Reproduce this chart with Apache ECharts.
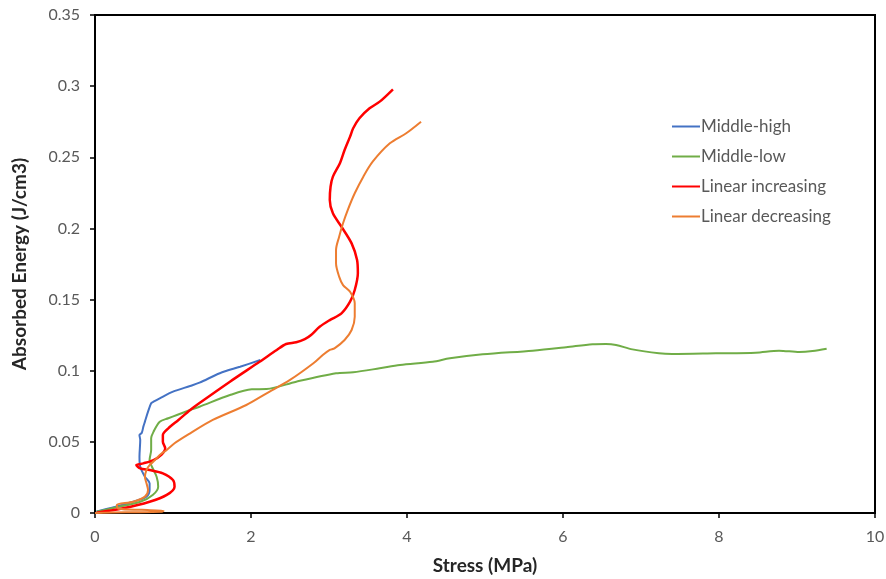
<!DOCTYPE html>
<html><head><meta charset="utf-8">
<script src="https://cdn.jsdelivr.net/npm/echarts@6/dist/echarts.min.js"></script>
<style>html,body{margin:0;padding:0;background:#fff}#c{width:886px;height:579px}</style>
</head><body><div id="c"></div>
<script>
var seriesNames = ["Middle-high", "Middle-low", "Linear increasing", "Linear decreasing"];
var xTicks = [0, 2, 4, 6, 8, 10];
var yTicks = [0, 0.05, 0.1, 0.15, 0.2, 0.25, 0.3, 0.35];

var middleHigh = [
[0.02,0.001],[0.19,0.0033],[0.49,0.0079],[0.66,0.0115],[0.70,0.0162],[0.70,0.0209],[0.64,0.0255],
[0.58,0.0325],[0.57,0.0396],[0.58,0.0513],[0.57,0.0548],[0.60,0.0564],[0.62,0.0607],[0.64,0.0642],
[0.68,0.0712],[0.72,0.0771],[0.75,0.0782],[0.83,0.0806],[1.00,0.0853],[1.22,0.0893],[1.34,0.0916],
[1.60,0.0982],[1.86,0.1028],[2.12,0.1075]
];
var middleLow = [
[0.02,0.0009],[0.23,0.0035],[0.58,0.0079],[0.74,0.0127],[0.81,0.0185],[0.79,0.0255],[0.73,0.0325],
[0.70,0.0372],[0.72,0.0443],[0.72,0.0525],[0.75,0.0571],[0.83,0.0642],[0.94,0.0666],[1.05,0.0689],
[1.22,0.0724],[1.34,0.0747],[1.73,0.0829],[2.01,0.0869],[2.20,0.0871],[2.58,0.0923],[3.09,0.0982],
[3.31,0.0989],[3.65,0.1017],[3.91,0.1040],[4.33,0.1063],[4.55,0.1087],[4.97,0.1115],[5.61,0.1141],
[6.04,0.1165],[6.38,0.1186],[6.55,0.1188],[6.68,0.1181],[6.89,0.1150],[7.23,0.1122],[7.40,0.1117],
[7.96,0.1122],[8.47,0.1127],[8.77,0.1141],[9.03,0.1131],[9.20,0.1138],[9.38,0.1155]
];
var linearIncreasing = [
[0.02,0.0002],[0.36,0.0033],[0.70,0.0079],[0.92,0.0127],[1.02,0.0185],[1.00,0.0232],[0.87,0.0279],
[0.70,0.0302],[0.58,0.0314],[0.53,0.0337],[0.62,0.0349],[0.75,0.0372],[0.85,0.0408],[0.90,0.0455],
[0.87,0.0501],[0.87,0.0548],[0.94,0.0595],[1.07,0.0654],[1.22,0.0724],[1.34,0.0773],[1.73,0.0923],
[2.11,0.1063],[2.33,0.1146],[2.45,0.1188],[2.58,0.1200],[2.69,0.1222],[2.77,0.1251],[2.88,0.1309],
[3.01,0.1356],[3.16,0.1403],[3.27,0.1485],[3.33,0.1567],[3.37,0.1685],[3.36,0.1778],[3.29,0.1895],
[3.16,0.2012],[3.05,0.2106],[3.01,0.2200],[3.02,0.2293],[3.05,0.2364],[3.14,0.2458],[3.20,0.2551],
[3.27,0.2645],[3.31,0.2704],[3.39,0.2774],[3.52,0.2844],[3.65,0.2891],[3.82,0.2978]
];
var linearDecreasing = [
[0.0,0.0],[0.4,0.0005],[0.85,0.0008],[0.88,0.0015],[0.6,0.0022],[0.3,0.0030],[0.28,0.0056],
[0.49,0.0079],[0.64,0.0115],[0.68,0.0162],[0.66,0.0209],[0.64,0.0255],[0.66,0.0302],[0.70,0.0337],
[0.77,0.0372],[0.83,0.0408],[0.92,0.0443],[1.02,0.0490],[1.22,0.0560],[1.51,0.0654],[1.94,0.0759],
[2.20,0.0841],[2.50,0.0935],[2.80,0.1052],[2.92,0.1110],[3.01,0.1146],[3.07,0.1157],[3.20,0.1216],
[3.29,0.1286],[3.33,0.1380],[3.33,0.1474],[3.27,0.1555],[3.18,0.1602],[3.13,0.1661],[3.09,0.1755],
[3.09,0.1848],[3.13,0.1942],[3.18,0.2036],[3.24,0.2129],[3.33,0.2247],[3.44,0.2364],[3.56,0.2469],
[3.78,0.2598],[3.99,0.2669],[4.18,0.2750]
];

var colors = ["#4472C4", "#70AD47", "#FF0000", "#ED7D31"];
var widths = [2, 2, 2.5, 2];
var datas = [middleHigh, middleLow, linearIncreasing, linearDecreasing];
var font = "Lato, 'Open Sans', sans-serif";

var chart = echarts.init(document.getElementById('c'), null, {renderer: 'canvas'});
chart.setOption({
  animation: false,
  backgroundColor: '#fff',
  grid: {left: 95, right: 11, top: 15, bottom: 66, containLabel: false, outerBoundsMode: 'none',
    show: true, borderColor: '#000', borderWidth: 2, backgroundColor: 'transparent'},
  legend: {
    orient: 'vertical', left: 667, top: 113,
    data: seriesNames,
    icon: 'rect', itemWidth: 28, itemHeight: 2, itemGap: 13,
    textStyle: {color: '#595959', fontSize: 17, fontFamily: font, padding: [0,0,0,-4]}
  },
  xAxis: {
    type: 'value', min: xTicks[0], max: xTicks[xTicks.length-1], interval: 2,
    name: 'Stress (MPa)', nameLocation: 'middle', nameGap: 43,
    nameTextStyle: {color: '#262626', fontSize: 19, fontWeight: 'bold', fontFamily: font},
    axisLine: {show: true, lineStyle: {color: '#000', width: 2}},
    axisTick: {show: true, length: 5, lineStyle: {color: '#000', width: 1.5}},
    axisLabel: {color: '#595959', fontSize: 16, fontFamily: font, margin: 16},
    splitLine: {show: false}
  },
  yAxis: {
    type: 'value', min: yTicks[0], max: yTicks[yTicks.length-1], interval: 0.05,
    name: 'Absorbed Energy (J/cm3)', nameLocation: 'middle', nameGap: 66, nameRotate: 90,
    nameTextStyle: {color: '#262626', fontSize: 19, fontWeight: 'bold', fontFamily: font},
    axisLine: {show: true, lineStyle: {color: '#000', width: 2}},
    axisTick: {show: true, length: 5, lineStyle: {color: '#000', width: 1.5}},
    axisLabel: {color: '#595959', fontSize: 16, fontFamily: font, margin: 15,
      formatter: function(v){ return String(parseFloat(v.toFixed(2))); }},
    splitLine: {show: false}
  },
  series: seriesNames.map(function(n, i){
    return {
      name: n, type: 'line', data: datas[i], showSymbol: false, symbol: 'none',
      smooth: 0.3, color: colors[i],
      lineStyle: {color: colors[i], width: widths[i]}
    };
  })
});
</script></body></html>
